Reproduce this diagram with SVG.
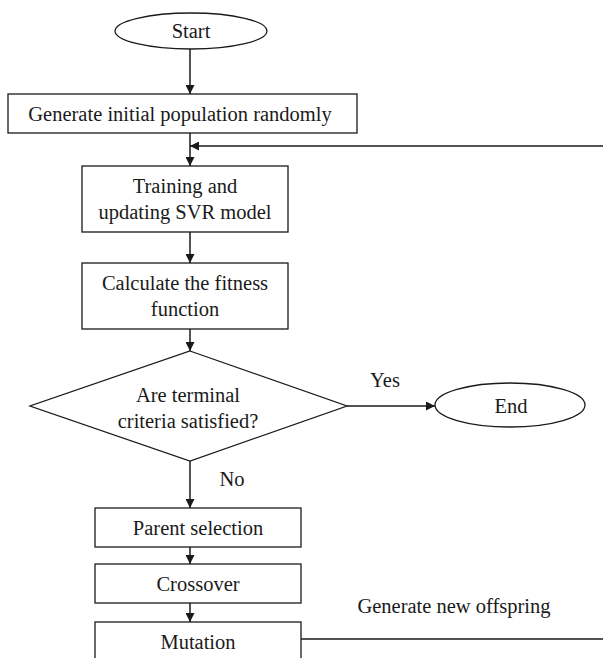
<svg xmlns="http://www.w3.org/2000/svg" width="603" height="658" viewBox="0 0 603 658">
<defs>
<style>
.n{fill:#fff;stroke:#1a1a1a;stroke-width:1.3}
.t{font-family:"Liberation Serif","Times New Roman",serif;font-size:20.5px;fill:#1a1a1a;text-anchor:middle}
.c{fill:none;stroke:#1a1a1a;stroke-width:1.5}
</style>
<marker id="ah" viewBox="0 0 10 10" refX="10" refY="5" markerWidth="9" markerHeight="9" markerUnits="userSpaceOnUse" orient="auto">
<path d="M0,0 L10,5 L0,10 z" fill="#1a1a1a"/>
</marker>
</defs>
<rect width="603" height="658" fill="#fff"/>
<g id="connectors">
<line class="c" x1="190" y1="49" x2="190" y2="94" marker-end="url(#ah)"/>
<line class="c" x1="190" y1="133" x2="190" y2="166" marker-end="url(#ah)"/>
<line class="c" x1="603" y1="146" x2="190" y2="146" marker-end="url(#ah)"/>
<line class="c" x1="190" y1="232" x2="190" y2="263" marker-end="url(#ah)"/>
<line class="c" x1="190" y1="329" x2="190" y2="351" marker-end="url(#ah)"/>
<line class="c" x1="347" y1="406" x2="435" y2="406" marker-end="url(#ah)"/>
<line class="c" x1="190" y1="461" x2="190" y2="508" marker-end="url(#ah)"/>
<line class="c" x1="190" y1="547" x2="190" y2="564" marker-end="url(#ah)"/>
<line class="c" x1="190" y1="603" x2="190" y2="622" marker-end="url(#ah)"/>
<line class="c" x1="301" y1="639" x2="603" y2="639"/>
<text class="t" x="385" y="387">Yes</text>
<text class="t" x="232" y="486">No</text>
<text class="t" x="454" y="613">Generate new offspring</text>
</g>
<g id="start">
<ellipse class="n" cx="191" cy="31" rx="76" ry="18"/>
<text class="t" x="191" y="38">Start</text>
</g>
<g id="init">
<rect class="n" x="8" y="94" width="349" height="39"/>
<text class="t" x="180" y="121">Generate initial population randomly</text>
</g>
<g id="train">
<rect class="n" x="82" y="166" width="206" height="66"/>
<text class="t" x="185" y="193">Training and</text>
<text class="t" x="185" y="219">updating SVR model</text>
</g>
<g id="fitness">
<rect class="n" x="82" y="263" width="206" height="66"/>
<text class="t" x="185" y="290">Calculate the fitness</text>
<text class="t" x="185" y="316">function</text>
</g>
<g id="decision">
<polygon class="n" points="190,351 347,406 190,461 30,406"/>
<text class="t" x="188" y="402">Are terminal</text>
<text class="t" x="188" y="428">criteria satisfied?</text>
</g>
<g id="end">
<ellipse class="n" cx="510" cy="405" rx="75" ry="22"/>
<text class="t" x="511" y="413">End</text>
</g>
<g id="parent">
<rect class="n" x="95" y="508" width="206" height="39"/>
<text class="t" x="198" y="535">Parent selection</text>
</g>
<g id="crossover">
<rect class="n" x="95" y="564" width="206" height="39"/>
<text class="t" x="198" y="591">Crossover</text>
</g>
<g id="mutation">
<rect class="n" x="95" y="622" width="206" height="60"/>
<text class="t" x="198" y="649">Mutation</text>
</g>
</svg>
